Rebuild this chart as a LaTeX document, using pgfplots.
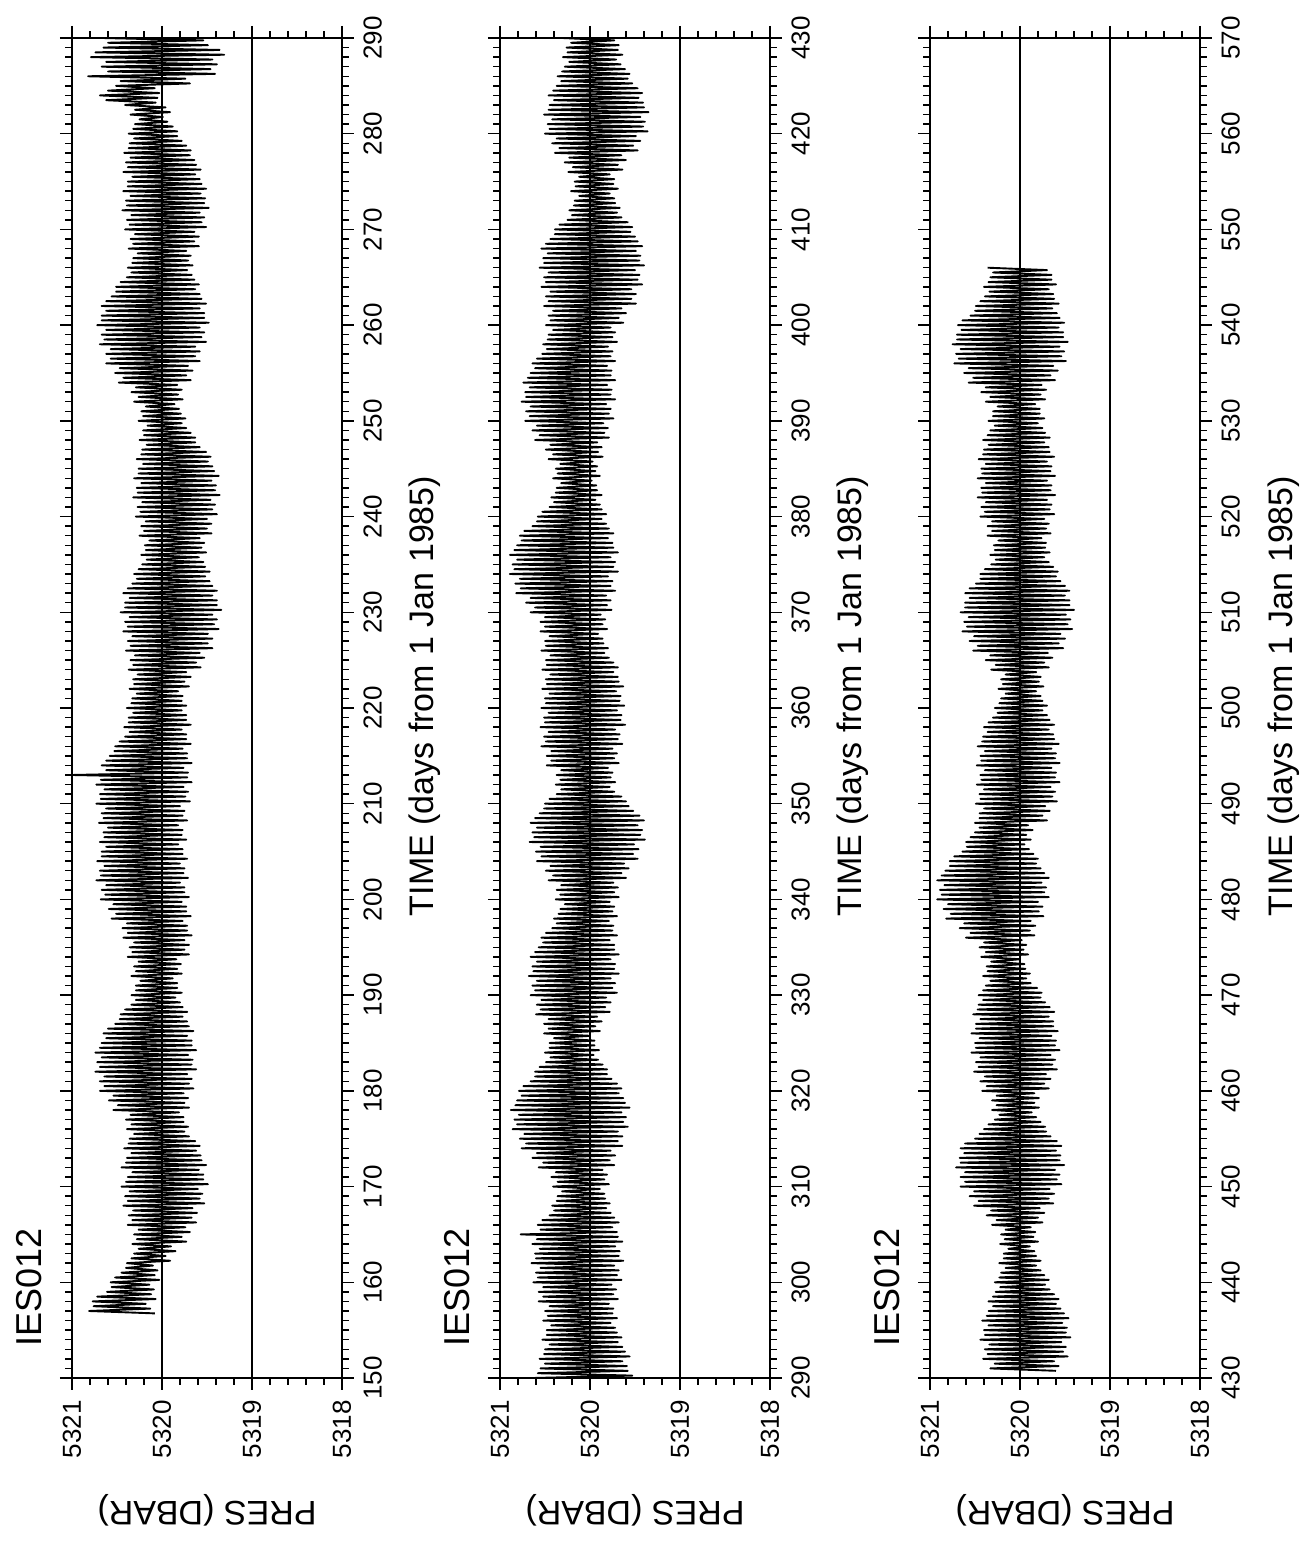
\documentclass[border=0pt]{standalone}
\usepackage{fontspec}
\setmainfont{Liberation Sans}
\usepackage{graphicx}
\usepackage{pgfplots}
\usepackage{pgfplotstable}
\pgfplotsset{compat=1.18}

\pgfplotstableread[row sep=\\]{
t p\\
156.75 5320.08\\
157 5320.81\\157.25 5320.13\\157.5 5320.76\\157.75 5320.18\\
158 5320.77\\158.25 5320.07\\158.5 5320.72\\158.75 5320.12\\
159 5320.61\\159.25 5320.09\\159.5 5320.56\\159.75 5320.14\\
160 5320.57\\160.25 5320.03\\160.5 5320.52\\160.75 5320.08\\
161 5320.45\\161.25 5320.05\\161.5 5320.40\\161.75 5320.10\\
162 5320.39\\162.25 5319.91\\162.5 5320.34\\162.75 5319.96\\
163 5320.31\\163.25 5319.85\\163.5 5320.26\\163.75 5319.90\\
164 5320.33\\164.25 5319.73\\164.5 5320.28\\164.75 5319.78\\
165 5320.31\\165.25 5319.69\\165.5 5320.26\\165.75 5319.74\\
166 5320.38\\166.25 5319.62\\166.5 5320.33\\166.75 5319.67\\
167 5320.37\\167.25 5319.61\\167.5 5320.32\\167.75 5319.66\\
168 5320.43\\168.25 5319.53\\168.5 5320.38\\168.75 5319.58\\
169 5320.41\\169.25 5319.55\\169.5 5320.36\\169.75 5319.60\\
170 5320.45\\170.25 5319.49\\170.5 5320.40\\170.75 5319.54\\
171 5320.38\\171.25 5319.54\\171.5 5320.33\\171.75 5319.59\\
172 5320.45\\172.25 5319.51\\172.5 5320.40\\172.75 5319.56\\
173 5320.39\\173.25 5319.57\\173.5 5320.34\\173.75 5319.62\\
174 5320.42\\174.25 5319.58\\174.5 5320.37\\174.75 5319.63\\
175 5320.36\\175.25 5319.70\\175.5 5320.31\\175.75 5319.75\\
176 5320.39\\176.25 5319.71\\176.5 5320.34\\176.75 5319.76\\
177 5320.40\\177.25 5319.76\\177.5 5320.35\\177.75 5319.81\\
178 5320.54\\178.25 5319.70\\178.5 5320.49\\178.75 5319.75\\
179 5320.59\\179.25 5319.71\\179.5 5320.54\\179.75 5319.76\\
180 5320.69\\180.25 5319.65\\180.5 5320.64\\180.75 5319.70\\
181 5320.69\\181.25 5319.67\\181.5 5320.64\\181.75 5319.72\\
182 5320.74\\182.25 5319.62\\182.5 5320.69\\182.75 5319.67\\
183 5320.72\\183.25 5319.66\\183.5 5320.67\\183.75 5319.71\\
184 5320.74\\184.25 5319.62\\184.5 5320.69\\184.75 5319.67\\
185 5320.67\\185.25 5319.67\\185.5 5320.62\\185.75 5319.72\\
186 5320.65\\186.25 5319.65\\186.5 5320.60\\186.75 5319.70\\
187 5320.52\\187.25 5319.72\\187.5 5320.47\\187.75 5319.77\\
188 5320.46\\188.25 5319.72\\188.5 5320.41\\188.75 5319.77\\
189 5320.34\\189.25 5319.80\\189.5 5320.29\\189.75 5319.85\\
190 5320.34\\190.25 5319.78\\190.5 5320.29\\190.75 5319.83\\
191 5320.29\\191.25 5319.83\\191.5 5320.24\\191.75 5319.88\\
192 5320.34\\192.25 5319.78\\192.5 5320.29\\192.75 5319.83\\
193 5320.31\\193.25 5319.79\\193.5 5320.26\\193.75 5319.84\\
194 5320.38\\194.25 5319.70\\194.5 5320.33\\194.75 5319.75\\
195 5320.36\\195.25 5319.70\\195.5 5320.31\\195.75 5319.75\\
196 5320.43\\196.25 5319.67\\196.5 5320.38\\196.75 5319.72\\
197 5320.44\\197.25 5319.72\\197.5 5320.39\\197.75 5319.77\\
198 5320.56\\198.25 5319.68\\198.5 5320.51\\198.75 5319.73\\
199 5320.59\\199.25 5319.73\\199.5 5320.54\\199.75 5319.78\\
200 5320.68\\200.25 5319.70\\200.5 5320.63\\200.75 5319.75\\
201 5320.67\\201.25 5319.75\\201.5 5320.62\\201.75 5319.80\\
202 5320.73\\202.25 5319.71\\202.5 5320.68\\202.75 5319.76\\
203 5320.69\\203.25 5319.75\\203.5 5320.64\\203.75 5319.80\\
204 5320.72\\204.25 5319.72\\204.5 5320.67\\204.75 5319.77\\
205 5320.67\\205.25 5319.77\\205.5 5320.62\\205.75 5319.82\\
206 5320.69\\206.25 5319.73\\206.5 5320.64\\206.75 5319.78\\
207 5320.65\\207.25 5319.77\\207.5 5320.60\\207.75 5319.82\\
208 5320.70\\208.25 5319.72\\208.5 5320.65\\208.75 5319.77\\
209 5320.67\\209.25 5319.75\\209.5 5320.62\\209.75 5319.80\\
210 5320.73\\210.25 5319.69\\210.5 5320.68\\210.75 5319.74\\
211 5320.69\\211.25 5319.71\\211.5 5320.64\\211.75 5319.76\\
212 5320.73\\212.25 5319.67\\212.5 5320.68\\212.75 5319.72\\
213 5321.00\\213.25 5319.71\\213.5 5320.62\\213.75 5319.76\\
214 5320.67\\214.25 5319.67\\214.5 5320.62\\214.75 5319.72\\
215 5320.58\\215.25 5319.72\\215.5 5320.53\\215.75 5319.77\\
216 5320.52\\216.25 5319.68\\216.5 5320.47\\216.75 5319.73\\
217 5320.41\\217.25 5319.73\\217.5 5320.36\\217.75 5319.78\\
218 5320.42\\218.25 5319.68\\218.5 5320.37\\218.75 5319.73\\
219 5320.37\\219.25 5319.73\\219.5 5320.32\\219.75 5319.78\\
220 5320.39\\220.25 5319.73\\220.5 5320.34\\220.75 5319.78\\
221 5320.33\\221.25 5319.77\\221.5 5320.28\\221.75 5319.82\\
222 5320.36\\222.25 5319.70\\222.5 5320.31\\222.75 5319.75\\
223 5320.32\\223.25 5319.68\\223.5 5320.27\\223.75 5319.73\\
224 5320.37\\224.25 5319.57\\224.5 5320.32\\224.75 5319.62\\
225 5320.35\\225.25 5319.53\\225.5 5320.30\\225.75 5319.58\\
226 5320.40\\226.25 5319.44\\226.5 5320.35\\226.75 5319.49\\
227 5320.38\\227.25 5319.44\\227.5 5320.33\\227.75 5319.49\\
228 5320.43\\228.25 5319.37\\228.5 5320.38\\228.75 5319.42\\
229 5320.41\\229.25 5319.39\\229.5 5320.36\\229.75 5319.44\\
230 5320.46\\230.25 5319.34\\230.5 5320.41\\230.75 5319.39\\
231 5320.41\\231.25 5319.39\\231.5 5320.36\\231.75 5319.44\\
232 5320.43\\232.25 5319.39\\232.5 5320.38\\232.75 5319.44\\
233 5320.33\\233.25 5319.47\\233.5 5320.28\\233.75 5319.52\\
234 5320.31\\234.25 5319.47\\234.5 5320.26\\234.75 5319.52\\
235 5320.22\\235.25 5319.54\\235.5 5320.17\\235.75 5319.59\\
236 5320.23\\236.25 5319.51\\236.5 5320.18\\236.75 5319.56\\
237 5320.19\\237.25 5319.53\\237.5 5320.14\\237.75 5319.58\\
238 5320.25\\238.25 5319.45\\238.5 5320.20\\238.75 5319.50\\
239 5320.23\\239.25 5319.45\\239.5 5320.18\\239.75 5319.50\\
240 5320.29\\240.25 5319.39\\240.5 5320.24\\240.75 5319.44\\
241 5320.27\\241.25 5319.41\\241.5 5320.22\\241.75 5319.46\\
242 5320.32\\242.25 5319.36\\242.5 5320.27\\242.75 5319.41\\
243 5320.28\\243.25 5319.40\\243.5 5320.23\\243.75 5319.45\\
244 5320.31\\244.25 5319.37\\244.5 5320.26\\244.75 5319.42\\
245 5320.26\\245.25 5319.44\\245.5 5320.21\\245.75 5319.49\\
246 5320.28\\246.25 5319.46\\246.5 5320.23\\246.75 5319.51\\
247 5320.22\\247.25 5319.58\\247.5 5320.17\\247.75 5319.63\\
248 5320.25\\248.25 5319.63\\248.5 5320.20\\248.75 5319.68\\
249 5320.21\\249.25 5319.73\\249.5 5320.16\\249.75 5319.78\\
250 5320.26\\250.25 5319.74\\250.5 5320.21\\250.75 5319.79\\
251 5320.23\\251.25 5319.81\\251.5 5320.18\\251.75 5319.86\\
252 5320.31\\252.25 5319.77\\252.5 5320.26\\252.75 5319.82\\
253 5320.34\\253.25 5319.78\\253.5 5320.29\\253.75 5319.83\\
254 5320.48\\254.25 5319.68\\254.5 5320.43\\254.75 5319.73\\
255 5320.52\\255.25 5319.66\\255.5 5320.47\\255.75 5319.71\\
256 5320.62\\256.25 5319.58\\256.5 5320.57\\256.75 5319.63\\
257 5320.62\\257.25 5319.58\\257.5 5320.57\\257.75 5319.63\\
258 5320.69\\258.25 5319.51\\258.5 5320.64\\258.75 5319.56\\
259 5320.67\\259.25 5319.53\\259.5 5320.62\\259.75 5319.58\\
260 5320.72\\260.25 5319.48\\260.5 5320.67\\260.75 5319.53\\
261 5320.67\\261.25 5319.53\\261.5 5320.62\\261.75 5319.58\\
262 5320.67\\262.25 5319.51\\262.5 5320.62\\262.75 5319.56\\
263 5320.56\\263.25 5319.58\\263.5 5320.51\\263.75 5319.63\\
264 5320.51\\264.25 5319.59\\264.5 5320.46\\264.75 5319.64\\
265 5320.39\\265.25 5319.67\\265.5 5320.34\\265.75 5319.72\\
266 5320.38\\266.25 5319.66\\266.5 5320.33\\266.75 5319.71\\
267 5320.32\\267.25 5319.68\\267.5 5320.27\\267.75 5319.73\\
268 5320.37\\268.25 5319.59\\268.5 5320.32\\268.75 5319.64\\
269 5320.35\\269.25 5319.59\\269.5 5320.30\\269.75 5319.64\\
270 5320.41\\270.25 5319.51\\270.5 5320.36\\270.75 5319.56\\
271 5320.39\\271.25 5319.53\\271.5 5320.34\\271.75 5319.58\\
272 5320.44\\272.25 5319.48\\272.5 5320.39\\272.75 5319.53\\
273 5320.40\\273.25 5319.52\\273.5 5320.35\\273.75 5319.57\\
274 5320.43\\274.25 5319.51\\274.5 5320.38\\274.75 5319.56\\
275 5320.38\\275.25 5319.58\\275.5 5320.33\\275.75 5319.63\\
276 5320.43\\276.25 5319.57\\276.5 5320.38\\276.75 5319.62\\
277 5320.40\\277.25 5319.64\\277.5 5320.35\\277.75 5319.69\\
278 5320.42\\278.25 5319.68\\278.5 5320.37\\278.75 5319.73\\
279 5320.36\\279.25 5319.78\\279.5 5320.31\\279.75 5319.83\\
280 5320.37\\280.25 5319.83\\280.5 5320.32\\280.75 5319.88\\
281 5320.30\\281.25 5319.94\\281.5 5320.25\\281.75 5319.99\\
282 5320.35\\282.25 5319.91\\282.5 5320.30\\282.75 5319.96\\
283 5320.41\\283.25 5320.07\\283.5 5320.62\\283.75 5320.05\\
284 5320.69\\284.25 5320.03\\284.5 5320.60\\284.75 5320.08\\
285 5320.51\\285.25 5319.69\\285.5 5320.46\\285.75 5319.74\\
286 5320.82\\286.25 5319.41\\286.5 5320.60\\286.75 5319.46\\
287 5320.67\\287.25 5319.39\\287.5 5320.62\\287.75 5319.44\\
288 5320.79\\288.25 5319.31\\288.5 5320.74\\288.75 5319.36\\
289 5320.65\\289.25 5319.49\\289.5 5320.60\\289.75 5319.54\\
290 5320.67\\
}\dataA

\pgfplotstableread[row sep=\\]{
t p\\
290 5320.63\\290.25 5319.53\\290.5 5320.58\\290.75 5319.58\\
291 5320.55\\291.25 5319.59\\291.5 5320.50\\291.75 5319.64\\
292 5320.56\\292.25 5319.56\\292.5 5320.51\\292.75 5319.61\\
293 5320.50\\293.25 5319.64\\293.5 5320.45\\293.75 5319.69\\
294 5320.53\\294.25 5319.65\\294.5 5320.48\\294.75 5319.70\\
295 5320.48\\295.25 5319.72\\295.5 5320.43\\295.75 5319.77\\
296 5320.52\\296.25 5319.70\\296.5 5320.47\\296.75 5319.75\\
297 5320.50\\297.25 5319.74\\297.5 5320.45\\297.75 5319.79\\
298 5320.57\\298.25 5319.69\\298.5 5320.52\\298.75 5319.74\\
299 5320.57\\299.25 5319.71\\299.5 5320.52\\299.75 5319.76\\
300 5320.63\\300.25 5319.65\\300.5 5320.58\\300.75 5319.70\\
301 5320.60\\301.25 5319.68\\301.5 5320.55\\301.75 5319.73\\
302 5320.65\\302.25 5319.63\\302.5 5320.60\\302.75 5319.68\\
303 5320.61\\303.25 5319.67\\303.5 5320.56\\303.75 5319.72\\
304 5320.64\\304.25 5319.64\\304.5 5320.59\\304.75 5319.69\\
305 5320.77\\305.25 5319.70\\305.5 5320.55\\305.75 5319.75\\
306 5320.58\\306.25 5319.68\\306.5 5320.53\\306.75 5319.73\\
307 5320.45\\307.25 5319.77\\307.5 5320.40\\307.75 5319.82\\
308 5320.42\\308.25 5319.78\\308.5 5320.37\\308.75 5319.83\\
309 5320.36\\309.25 5319.84\\309.5 5320.31\\309.75 5319.89\\
310 5320.41\\310.25 5319.79\\310.5 5320.36\\310.75 5319.84\\
311 5320.43\\311.25 5319.81\\311.5 5320.38\\311.75 5319.86\\
312 5320.57\\312.25 5319.73\\312.5 5320.52\\312.75 5319.78\\
313 5320.64\\313.25 5319.72\\313.5 5320.59\\313.75 5319.77\\
314 5320.76\\314.25 5319.64\\314.5 5320.71\\314.75 5319.69\\
315 5320.78\\315.25 5319.64\\315.5 5320.73\\315.75 5319.69\\
316 5320.86\\316.25 5319.58\\316.5 5320.81\\316.75 5319.63\\
317 5320.84\\317.25 5319.60\\317.5 5320.79\\317.75 5319.65\\
318 5320.88\\318.25 5319.56\\318.5 5320.83\\318.75 5319.61\\
319 5320.81\\319.25 5319.63\\319.5 5320.76\\319.75 5319.68\\
320 5320.79\\320.25 5319.65\\320.5 5320.74\\320.75 5319.70\\
321 5320.66\\321.25 5319.76\\321.5 5320.61\\321.75 5319.81\\
322 5320.61\\322.25 5319.81\\322.5 5320.56\\322.75 5319.86\\
323 5320.49\\323.25 5319.91\\323.5 5320.44\\323.75 5319.96\\
324 5320.50\\324.25 5319.90\\324.5 5320.45\\324.75 5319.95\\
325 5320.45\\325.25 5319.95\\325.5 5320.40\\325.75 5320.00\\
326 5320.51\\326.25 5319.89\\326.5 5320.46\\326.75 5319.94\\
327 5320.51\\327.25 5319.87\\327.5 5320.46\\327.75 5319.92\\
328 5320.60\\328.25 5319.78\\328.5 5320.55\\328.75 5319.83\\
329 5320.59\\329.25 5319.77\\329.5 5320.54\\329.75 5319.82\\
330 5320.66\\330.25 5319.70\\330.5 5320.61\\330.75 5319.75\\
331 5320.64\\331.25 5319.72\\331.5 5320.59\\331.75 5319.77\\
332 5320.68\\332.25 5319.68\\332.5 5320.63\\332.75 5319.73\\
333 5320.64\\333.25 5319.72\\333.5 5320.59\\333.75 5319.77\\
334 5320.66\\334.25 5319.68\\334.5 5320.61\\334.75 5319.73\\
335 5320.57\\335.25 5319.73\\335.5 5320.52\\335.75 5319.78\\
336 5320.54\\336.25 5319.70\\336.5 5320.49\\336.75 5319.75\\
337 5320.42\\337.25 5319.74\\337.5 5320.37\\337.75 5319.79\\
338 5320.40\\338.25 5319.70\\338.5 5320.35\\338.75 5319.75\\
339 5320.33\\339.25 5319.73\\339.5 5320.28\\339.75 5319.78\\
340 5320.38\\340.25 5319.68\\340.5 5320.33\\340.75 5319.73\\
341 5320.37\\341.25 5319.69\\341.5 5320.32\\341.75 5319.74\\
342 5320.46\\342.25 5319.60\\342.5 5320.41\\342.75 5319.65\\
343 5320.49\\343.25 5319.57\\343.5 5320.44\\343.75 5319.62\\
344 5320.59\\344.25 5319.47\\344.5 5320.54\\344.75 5319.52\\
345 5320.60\\345.25 5319.46\\345.5 5320.55\\345.75 5319.51\\
346 5320.67\\346.25 5319.39\\346.5 5320.62\\346.75 5319.44\\
347 5320.64\\347.25 5319.42\\347.5 5320.59\\347.75 5319.47\\
348 5320.66\\348.25 5319.40\\348.5 5320.61\\348.75 5319.45\\
349 5320.56\\349.25 5319.52\\349.5 5320.51\\349.75 5319.57\\
350 5320.50\\350.25 5319.60\\350.5 5320.45\\350.75 5319.65\\
351 5320.37\\351.25 5319.73\\351.5 5320.32\\351.75 5319.78\\
352 5320.38\\352.25 5319.72\\352.5 5320.33\\352.75 5319.77\\
353 5320.37\\353.25 5319.75\\353.5 5320.32\\353.75 5319.80\\
354 5320.48\\354.25 5319.68\\354.5 5320.43\\354.75 5319.73\\
355 5320.48\\355.25 5319.70\\355.5 5320.43\\355.75 5319.75\\
356 5320.54\\356.25 5319.64\\356.5 5320.49\\356.75 5319.69\\
357 5320.51\\357.25 5319.67\\357.5 5320.46\\357.75 5319.72\\
358 5320.55\\358.25 5319.61\\358.5 5320.50\\358.75 5319.66\\
359 5320.51\\359.25 5319.65\\359.5 5320.46\\359.75 5319.70\\
360 5320.54\\360.25 5319.62\\360.5 5320.49\\360.75 5319.67\\
361 5320.50\\361.25 5319.66\\361.5 5320.45\\361.75 5319.71\\
362 5320.53\\362.25 5319.63\\362.5 5320.48\\362.75 5319.68\\
363 5320.49\\363.25 5319.69\\363.5 5320.44\\363.75 5319.74\\
364 5320.53\\364.25 5319.69\\364.5 5320.48\\364.75 5319.74\\
365 5320.49\\365.25 5319.79\\365.5 5320.44\\365.75 5319.84\\
366 5320.54\\366.25 5319.80\\366.5 5320.49\\366.75 5319.85\\
367 5320.50\\367.25 5319.86\\367.5 5320.45\\367.75 5319.91\\
368 5320.55\\368.25 5319.81\\368.5 5320.50\\368.75 5319.86\\
369 5320.55\\369.25 5319.83\\369.5 5320.50\\369.75 5319.88\\
370 5320.66\\370.25 5319.76\\370.5 5320.61\\370.75 5319.81\\
371 5320.71\\371.25 5319.77\\371.5 5320.66\\371.75 5319.82\\
372 5320.82\\372.25 5319.72\\372.5 5320.77\\372.75 5319.77\\
373 5320.83\\373.25 5319.75\\373.5 5320.78\\373.75 5319.80\\
374 5320.89\\374.25 5319.69\\374.5 5320.84\\374.75 5319.74\\
375 5320.86\\375.25 5319.72\\375.5 5320.81\\375.75 5319.77\\
376 5320.89\\376.25 5319.69\\376.5 5320.84\\376.75 5319.74\\
377 5320.81\\377.25 5319.75\\377.5 5320.76\\377.75 5319.80\\
378 5320.78\\378.25 5319.74\\378.5 5320.73\\378.75 5319.79\\
379 5320.64\\379.25 5319.82\\379.5 5320.59\\379.75 5319.87\\
380 5320.58\\380.25 5319.82\\380.5 5320.53\\380.75 5319.87\\
381 5320.45\\381.25 5319.89\\381.5 5320.40\\381.75 5319.94\\
382 5320.43\\382.25 5319.87\\382.5 5320.38\\382.75 5319.92\\
383 5320.37\\383.25 5319.93\\383.5 5320.32\\383.75 5319.98\\
384 5320.41\\384.25 5319.89\\384.5 5320.36\\384.75 5319.94\\
385 5320.38\\385.25 5319.92\\385.5 5320.33\\385.75 5319.97\\
386 5320.46\\386.25 5319.86\\386.5 5320.41\\386.75 5319.91\\
387 5320.49\\387.25 5319.87\\387.5 5320.44\\387.75 5319.92\\
388 5320.61\\388.25 5319.79\\388.5 5320.56\\388.75 5319.84\\
389 5320.64\\389.25 5319.80\\389.5 5320.59\\389.75 5319.85\\
390 5320.72\\390.25 5319.74\\390.5 5320.67\\390.75 5319.79\\
391 5320.71\\391.25 5319.77\\391.5 5320.66\\391.75 5319.82\\
392 5320.76\\392.25 5319.72\\392.5 5320.71\\392.75 5319.77\\
393 5320.72\\393.25 5319.76\\393.5 5320.67\\393.75 5319.81\\
394 5320.74\\394.25 5319.72\\394.5 5320.69\\394.75 5319.77\\
395 5320.66\\395.25 5319.76\\395.5 5320.61\\395.75 5319.81\\
396 5320.64\\396.25 5319.72\\396.5 5320.59\\396.75 5319.77\\
397 5320.53\\397.25 5319.75\\397.5 5320.48\\397.75 5319.80\\
398 5320.52\\398.25 5319.70\\398.5 5320.47\\398.75 5319.75\\
399 5320.46\\399.25 5319.72\\399.5 5320.41\\399.75 5319.77\\
400 5320.49\\400.25 5319.63\\400.5 5320.44\\400.75 5319.68\\
401 5320.46\\401.25 5319.60\\401.5 5320.41\\401.75 5319.65\\
402 5320.51\\402.25 5319.49\\402.5 5320.46\\402.75 5319.54\\
403 5320.49\\403.25 5319.49\\403.5 5320.44\\403.75 5319.54\\
404 5320.54\\404.25 5319.42\\404.5 5320.49\\404.75 5319.47\\
405 5320.51\\405.25 5319.45\\405.5 5320.46\\405.75 5319.50\\
406 5320.56\\406.25 5319.40\\406.5 5320.51\\406.75 5319.45\\
407 5320.52\\407.25 5319.44\\407.5 5320.47\\407.75 5319.49\\
408 5320.54\\408.25 5319.42\\408.5 5320.49\\408.75 5319.47\\
409 5320.44\\409.25 5319.50\\409.5 5320.39\\409.75 5319.55\\
410 5320.39\\410.25 5319.53\\410.5 5320.34\\410.75 5319.58\\
411 5320.25\\411.25 5319.65\\411.5 5320.20\\411.75 5319.70\\
412 5320.23\\412.25 5319.67\\412.5 5320.18\\412.75 5319.72\\
413 5320.17\\413.25 5319.73\\413.5 5320.12\\413.75 5319.78\\
414 5320.21\\414.25 5319.69\\414.5 5320.16\\414.75 5319.74\\
415 5320.17\\415.25 5319.73\\415.5 5320.12\\415.75 5319.78\\
416 5320.24\\416.25 5319.64\\416.5 5320.19\\416.75 5319.69\\
417 5320.28\\417.25 5319.60\\417.5 5320.23\\417.75 5319.65\\
418 5320.39\\418.25 5319.47\\418.5 5320.34\\418.75 5319.52\\
419 5320.42\\419.25 5319.44\\419.5 5320.37\\419.75 5319.49\\
420 5320.50\\420.25 5319.36\\420.5 5320.45\\420.75 5319.41\\
421 5320.47\\421.25 5319.39\\421.5 5320.42\\421.75 5319.44\\
422 5320.51\\422.25 5319.35\\422.5 5320.46\\422.75 5319.40\\
423 5320.45\\423.25 5319.41\\423.5 5320.40\\423.75 5319.46\\
424 5320.46\\424.25 5319.42\\424.5 5320.41\\424.75 5319.47\\
425 5320.37\\425.25 5319.53\\425.5 5320.32\\425.75 5319.58\\
426 5320.36\\426.25 5319.56\\426.5 5320.31\\426.75 5319.61\\
427 5320.28\\427.25 5319.66\\427.5 5320.23\\427.75 5319.71\\
428 5320.30\\428.25 5319.64\\428.5 5320.25\\428.75 5319.69\\
429 5320.26\\429.25 5319.68\\429.5 5320.21\\429.75 5319.73\\
430 5320.31\\
}\dataB

\pgfplotstableread[row sep=\\]{
t p\\
430.75 5319.60\\
431 5320.33\\431.25 5319.57\\431.5 5320.28\\431.75 5319.62\\
432 5320.41\\432.25 5319.47\\432.5 5320.36\\432.75 5319.52\\
433 5320.39\\433.25 5319.49\\433.5 5320.34\\433.75 5319.54\\
434 5320.44\\434.25 5319.44\\434.5 5320.39\\434.75 5319.49\\
435 5320.40\\435.25 5319.48\\435.5 5320.35\\435.75 5319.53\\
436 5320.42\\436.25 5319.46\\436.5 5320.37\\436.75 5319.51\\
437 5320.35\\437.25 5319.55\\437.5 5320.30\\437.75 5319.60\\
438 5320.35\\438.25 5319.57\\438.5 5320.30\\438.75 5319.62\\
439 5320.27\\439.25 5319.67\\439.5 5320.22\\439.75 5319.72\\
440 5320.28\\440.25 5319.68\\440.5 5320.23\\440.75 5319.73\\
441 5320.21\\441.25 5319.77\\441.5 5320.16\\441.75 5319.82\\
442 5320.23\\442.25 5319.77\\442.5 5320.18\\442.75 5319.82\\
443 5320.18\\443.25 5319.84\\443.5 5320.13\\443.75 5319.89\\
444 5320.22\\444.25 5319.80\\444.5 5320.17\\444.75 5319.85\\
445 5320.21\\445.25 5319.83\\445.5 5320.16\\445.75 5319.88\\
446 5320.31\\446.25 5319.75\\446.5 5320.26\\446.75 5319.80\\
447 5320.37\\447.25 5319.73\\447.5 5320.32\\447.75 5319.78\\
448 5320.51\\448.25 5319.63\\448.5 5320.46\\448.75 5319.68\\
449 5320.56\\449.25 5319.62\\449.5 5320.51\\449.75 5319.67\\
450 5320.66\\450.25 5319.54\\450.5 5320.61\\450.75 5319.59\\
451 5320.66\\451.25 5319.56\\451.5 5320.61\\451.75 5319.61\\
452 5320.71\\452.25 5319.51\\452.5 5320.66\\452.75 5319.56\\
453 5320.67\\453.25 5319.55\\453.5 5320.62\\453.75 5319.60\\
454 5320.66\\454.25 5319.54\\454.5 5320.61\\454.75 5319.59\\
455 5320.50\\455.25 5319.66\\455.5 5320.45\\455.75 5319.71\\
456 5320.40\\456.25 5319.72\\456.5 5320.35\\456.75 5319.77\\
457 5320.28\\457.25 5319.82\\457.5 5320.23\\457.75 5319.87\\
458 5320.31\\458.25 5319.79\\458.5 5320.26\\458.75 5319.84\\
459 5320.31\\459.25 5319.79\\459.5 5320.26\\459.75 5319.84\\
460 5320.42\\460.25 5319.68\\460.5 5320.37\\460.75 5319.73\\
461 5320.44\\461.25 5319.66\\461.5 5320.39\\461.75 5319.71\\
462 5320.51\\462.25 5319.59\\462.5 5320.46\\462.75 5319.64\\
463 5320.49\\463.25 5319.61\\463.5 5320.44\\463.75 5319.66\\
464 5320.54\\464.25 5319.56\\464.5 5320.49\\464.75 5319.61\\
465 5320.50\\465.25 5319.60\\465.5 5320.45\\465.75 5319.65\\
466 5320.54\\466.25 5319.58\\466.5 5320.49\\466.75 5319.63\\
467 5320.49\\467.25 5319.63\\467.5 5320.44\\467.75 5319.68\\
468 5320.52\\468.25 5319.62\\468.5 5320.47\\468.75 5319.67\\
469 5320.46\\469.25 5319.72\\469.5 5320.41\\469.75 5319.77\\
470 5320.46\\470.25 5319.76\\470.5 5320.41\\470.75 5319.81\\
471 5320.38\\471.25 5319.88\\471.5 5320.33\\471.75 5319.93\\
472 5320.41\\472.25 5319.89\\472.5 5320.36\\472.75 5319.94\\
473 5320.37\\473.25 5319.95\\473.5 5320.32\\473.75 5320.00\\
474 5320.43\\474.25 5319.91\\474.5 5320.38\\474.75 5319.96\\
475 5320.45\\475.25 5319.93\\475.5 5320.40\\475.75 5319.98\\
476 5320.60\\476.25 5319.84\\476.5 5320.55\\476.75 5319.89\\
477 5320.67\\477.25 5319.83\\477.5 5320.62\\477.75 5319.88\\
478 5320.82\\478.25 5319.74\\478.5 5320.77\\478.75 5319.79\\
479 5320.85\\479.25 5319.75\\479.5 5320.80\\479.75 5319.80\\
480 5320.92\\480.25 5319.68\\480.5 5320.87\\480.75 5319.73\\
481 5320.89\\481.25 5319.71\\481.5 5320.84\\481.75 5319.76\\
482 5320.92\\482.25 5319.68\\482.5 5320.87\\482.75 5319.73\\
483 5320.83\\483.25 5319.77\\483.5 5320.78\\483.75 5319.82\\
484 5320.78\\484.25 5319.80\\484.5 5320.73\\484.75 5319.85\\
485 5320.64\\485.25 5319.90\\485.5 5320.59\\485.75 5319.95\\
486 5320.60\\486.25 5319.88\\486.5 5320.55\\486.75 5319.93\\
487 5320.50\\487.25 5319.86\\487.5 5320.45\\487.75 5319.91\\
488 5320.50\\488.25 5319.70\\488.5 5320.45\\488.75 5319.75\\
489 5320.45\\489.25 5319.67\\489.5 5320.40\\489.75 5319.72\\
490 5320.49\\490.25 5319.59\\490.5 5320.44\\490.75 5319.64\\
491 5320.45\\491.25 5319.61\\491.5 5320.40\\491.75 5319.66\\
492 5320.48\\492.25 5319.56\\492.5 5320.43\\492.75 5319.61\\
493 5320.44\\493.25 5319.60\\493.5 5320.39\\493.75 5319.65\\
494 5320.48\\494.25 5319.56\\494.5 5320.43\\494.75 5319.61\\
495 5320.44\\495.25 5319.60\\495.5 5320.39\\495.75 5319.65\\
496 5320.47\\496.25 5319.57\\496.5 5320.42\\496.75 5319.62\\
497 5320.41\\497.25 5319.63\\497.5 5320.36\\497.75 5319.68\\
498 5320.40\\498.25 5319.62\\498.5 5320.35\\498.75 5319.67\\
499 5320.30\\499.25 5319.70\\499.5 5320.25\\499.75 5319.75\\
500 5320.28\\500.25 5319.70\\500.5 5320.23\\500.75 5319.75\\
501 5320.21\\501.25 5319.77\\501.5 5320.16\\501.75 5319.82\\
502 5320.24\\502.25 5319.74\\502.5 5320.19\\502.75 5319.79\\
503 5320.21\\503.25 5319.77\\503.5 5320.16\\503.75 5319.82\\
504 5320.32\\504.25 5319.68\\504.5 5320.27\\504.75 5319.73\\
505 5320.38\\505.25 5319.64\\505.5 5320.33\\505.75 5319.69\\
506 5320.52\\506.25 5319.52\\506.5 5320.47\\506.75 5319.57\\
507 5320.56\\507.25 5319.50\\507.5 5320.51\\507.75 5319.55\\
508 5320.64\\508.25 5319.42\\508.5 5320.59\\508.75 5319.47\\
509 5320.62\\509.25 5319.44\\509.5 5320.57\\509.75 5319.49\\
510 5320.66\\510.25 5319.40\\510.5 5320.61\\510.75 5319.45\\
511 5320.61\\511.25 5319.45\\511.5 5320.56\\511.75 5319.50\\
512 5320.61\\512.25 5319.45\\512.5 5320.56\\512.75 5319.50\\
513 5320.49\\513.25 5319.55\\513.5 5320.44\\513.75 5319.60\\
514 5320.44\\514.25 5319.58\\514.5 5320.39\\514.75 5319.63\\
515 5320.32\\515.25 5319.68\\515.5 5320.27\\515.75 5319.73\\
516 5320.33\\516.25 5319.67\\516.5 5320.28\\516.75 5319.72\\
517 5320.29\\517.25 5319.71\\517.5 5320.24\\517.75 5319.76\\
518 5320.36\\518.25 5319.66\\518.5 5320.31\\518.75 5319.71\\
519 5320.36\\519.25 5319.68\\519.5 5320.31\\519.75 5319.73\\
520 5320.44\\520.25 5319.62\\520.5 5320.39\\520.75 5319.67\\
521 5320.43\\521.25 5319.65\\521.5 5320.38\\521.75 5319.70\\
522 5320.47\\522.25 5319.61\\522.5 5320.42\\522.75 5319.66\\
523 5320.43\\523.25 5319.65\\523.5 5320.38\\523.75 5319.70\\
524 5320.47\\524.25 5319.61\\524.5 5320.42\\524.75 5319.66\\
525 5320.43\\525.25 5319.65\\525.5 5320.38\\525.75 5319.70\\
526 5320.46\\526.25 5319.62\\526.5 5320.41\\526.75 5319.67\\
527 5320.40\\527.25 5319.68\\527.5 5320.35\\527.75 5319.73\\
528 5320.41\\528.25 5319.67\\528.5 5320.36\\528.75 5319.72\\
529 5320.33\\529.25 5319.75\\529.5 5320.28\\529.75 5319.80\\
530 5320.35\\530.25 5319.73\\530.5 5320.30\\530.75 5319.78\\
531 5320.30\\531.25 5319.78\\531.5 5320.25\\531.75 5319.83\\
532 5320.38\\532.25 5319.72\\532.5 5320.33\\532.75 5319.77\\
533 5320.43\\533.25 5319.71\\533.5 5320.38\\533.75 5319.76\\
534 5320.57\\534.25 5319.61\\534.5 5320.52\\534.75 5319.66\\
535 5320.62\\535.25 5319.58\\535.5 5320.57\\535.75 5319.63\\
536 5320.73\\536.25 5319.49\\536.5 5320.68\\536.75 5319.54\\
537 5320.71\\537.25 5319.51\\537.5 5320.66\\537.75 5319.56\\
538 5320.75\\538.25 5319.47\\538.5 5320.70\\538.75 5319.52\\
539 5320.70\\539.25 5319.52\\539.5 5320.65\\539.75 5319.57\\
540 5320.69\\540.25 5319.51\\540.5 5320.64\\540.75 5319.56\\
541 5320.55\\541.25 5319.59\\541.5 5320.50\\541.75 5319.64\\
542 5320.49\\542.25 5319.57\\542.5 5320.44\\542.75 5319.62\\
543 5320.39\\543.25 5319.63\\543.5 5320.34\\543.75 5319.68\\
544 5320.40\\544.25 5319.60\\544.5 5320.35\\544.75 5319.65\\
545 5320.33\\545.25 5319.65\\545.5 5320.30\\545.75 5319.70\\
546 5320.36\\
}\dataC

\pgfplotsset{
  ies/.style={
    scale only axis, width=670pt, height=135pt, anchor=south west,
    ymin=5318, ymax=5321, ytick={5318,5319,5320,5321}, minor y tick num=4,
    minor x tick num=9,
    tick align=outside, major tick length=6pt, minor tick length=3.3pt,
    tick style={black, line width=0.75pt},
    axis line style={line width=1pt},
    ymajorgrids, major grid style={black, line width=0.75pt},
    tick label style={font=\fontsize{13}{15}\selectfont},
    /pgf/number format/1000 sep={}, /pgf/number format/assume math mode=true,
    xticklabel style={anchor=north, inner sep=0pt, yshift=-4.5pt},
    yticklabel style={anchor=east, inner sep=0pt, xshift=-5pt},
    xlabel={TIME (days from 1 Jan 1985)},
    ylabel={PRES (DBAR)},
    title={IES012},
    every axis x label/.style={at={(axis description cs:0.5,0)}, anchor=base, yshift=-46pt, xshift=6pt, font=\fontsize{17}{19}\selectfont},
    every axis y label/.style={at={(axis description cs:0,0.5)}, xshift=-66pt, rotate=90, anchor=center, font=\fontsize{17}{19}\selectfont},
    every axis title/.style={at={(axis description cs:0,1)}, anchor=base west, inner sep=0pt, xshift=15.5pt, yshift=15pt, font=\fontsize{18}{20}\selectfont},
  },
  iesline/.style={black, line width=0.95pt, mark=none, line join=round},
}

\begin{document}
\rotatebox{90}{%
\begin{tikzpicture}
\useasboundingbox (0,0) rectangle (773pt,656pt);
\begin{axis}[ies, at={(84pt,485pt)}, xmin=150, xmax=290, xtick={150,160,...,290}]
\addplot[iesline] table[x=t,y=p] {\dataA};
\end{axis}
\begin{axis}[ies, at={(84pt,271pt)}, xmin=290, xmax=430, xtick={290,300,...,430}]
\addplot[iesline] table[x=t,y=p] {\dataB};
\end{axis}
\begin{axis}[ies, at={(84pt,56pt)}, xmin=430, xmax=570, xtick={430,440,...,570}]
\addplot[iesline] table[x=t,y=p] {\dataC};
\end{axis}
\end{tikzpicture}}
\end{document}
